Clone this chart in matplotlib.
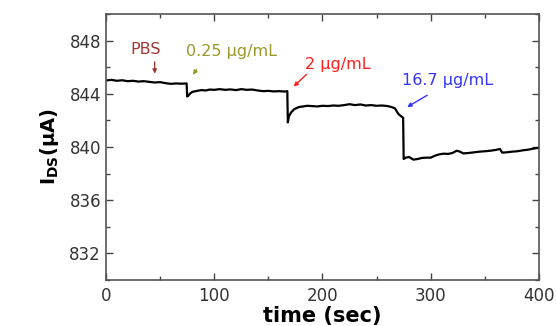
import matplotlib
matplotlib.use("Agg")
import matplotlib.pyplot as plt
from matplotlib.ticker import MultipleLocator

# Data
time_s = [0, 5, 10, 15, 20, 25, 30, 35, 40, 45, 50, 55, 60, 65, 70, 74.5,
          75, 76, 78, 80, 84, 88, 92, 96, 100, 105, 110, 115, 120, 125, 130,
          135, 140, 145, 150, 155, 160, 165, 167.5,
          168, 169, 171, 174, 178, 182, 186, 190, 195, 200, 205, 210, 215,
          220, 225, 230, 235, 240, 245, 250, 255, 260, 264, 267, 270, 272, 274.5,
          275, 277, 280, 284, 288, 292, 296, 300, 304, 308, 312, 316, 320,
          324, 327, 330, 335, 340, 345, 350, 355, 360, 364, 366, 370, 375,
          380, 385, 390, 395, 400]
current_uA = [845.0, 845.05, 844.98, 845.02, 844.95, 844.98, 844.92, 844.95,
              844.9, 844.85, 844.88, 844.8, 844.75, 844.78, 844.76, 844.78,
              843.8, 843.85, 844.05, 844.15, 844.22, 844.28, 844.25, 844.32,
              844.3, 844.35, 844.3, 844.33, 844.28, 844.35, 844.3, 844.32,
              844.25, 844.2, 844.22, 844.18, 844.2, 844.17, 844.2,
              841.85, 842.3, 842.6, 842.85, 843.0, 843.05, 843.1, 843.08,
              843.05, 843.1, 843.08, 843.12, 843.1, 843.15, 843.22, 843.15,
              843.2, 843.12, 843.15, 843.1, 843.12, 843.08, 843.0, 842.9,
              842.5, 842.35, 842.2,
              839.1, 839.2, 839.25, 839.05, 839.1, 839.18, 839.2, 839.2,
              839.35, 839.45, 839.5, 839.48, 839.55, 839.72, 839.65, 839.52,
              839.55, 839.6, 839.65, 839.68, 839.72, 839.78, 839.85, 839.58,
              839.6, 839.65, 839.68, 839.75, 839.8, 839.88, 839.95]

# Annotations: label, text position, arrow tail, arrow head, colour
labels = ["PBS", "0.25 µg/mL", "2 µg/mL", "16.7 µg/mL"]
label_xy = [(37, 847.3), (74, 847.2), (184, 846.2), (273, 845.0)]
arrow_from = [(45, 846.6), (85, 846.0), (187, 845.6), (299, 844.0)]
arrow_to = [(45, 845.3), (79, 845.25), (171.5, 844.4), (276, 842.9)]
label_colors = ["#a33535", "#9a9a2a", "#ff2020", "#3535ff"]

plt.rcParams["font.family"] = "DejaVu Sans"
plt.rcParams["mathtext.fontset"] = "custom"
plt.rcParams["mathtext.bf"] = "DejaVu Sans:bold"

fig = plt.figure(figsize=(5.56, 3.26), dpi=100)
ax = fig.add_axes([0.1906, 0.1411, 0.7788, 0.8159])

ax.plot(time_s, current_uA, color="black", lw=1.6)

for i in range(len(labels)):
    ha = "center" if i == 0 else "left"
    ax.text(label_xy[i][0], label_xy[i][1], labels[i], color=label_colors[i],
            fontsize=11.5, ha=ha, va="center")
    ax.annotate("", xy=arrow_to[i], xytext=arrow_from[i],
                arrowprops=dict(arrowstyle="-|>", color=label_colors[i],
                                lw=1.0, mutation_scale=6))

ax.set_xlim(0, 400)
ax.set_ylim(830, 850)
ax.xaxis.set_major_locator(MultipleLocator(100))
ax.xaxis.set_minor_locator(MultipleLocator(50))
ax.yaxis.set_major_locator(MultipleLocator(4))
ax.yaxis.set_minor_locator(MultipleLocator(2))
ax.set_yticks([832, 836, 840, 844, 848])
ax.tick_params(which="both", direction="in", top=True, right=True,
               labelsize=12, colors="#444444", labelcolor="#333333")
ax.tick_params(which="major", length=5, width=1)
ax.tick_params(which="minor", length=3, width=1)
ax.tick_params(axis="x", pad=5)
for sp in ax.spines.values():
    sp.set_color("#555555")
    sp.set_linewidth(1.2)

ax.set_xlabel("time (sec)", fontsize=15, fontweight="bold", labelpad=1)
ax.set_ylabel(r"$\mathbf{I_{DS}}$(µA)", fontsize=14, fontweight="bold", labelpad=6)

fig.savefig("out.png", dpi=100)
